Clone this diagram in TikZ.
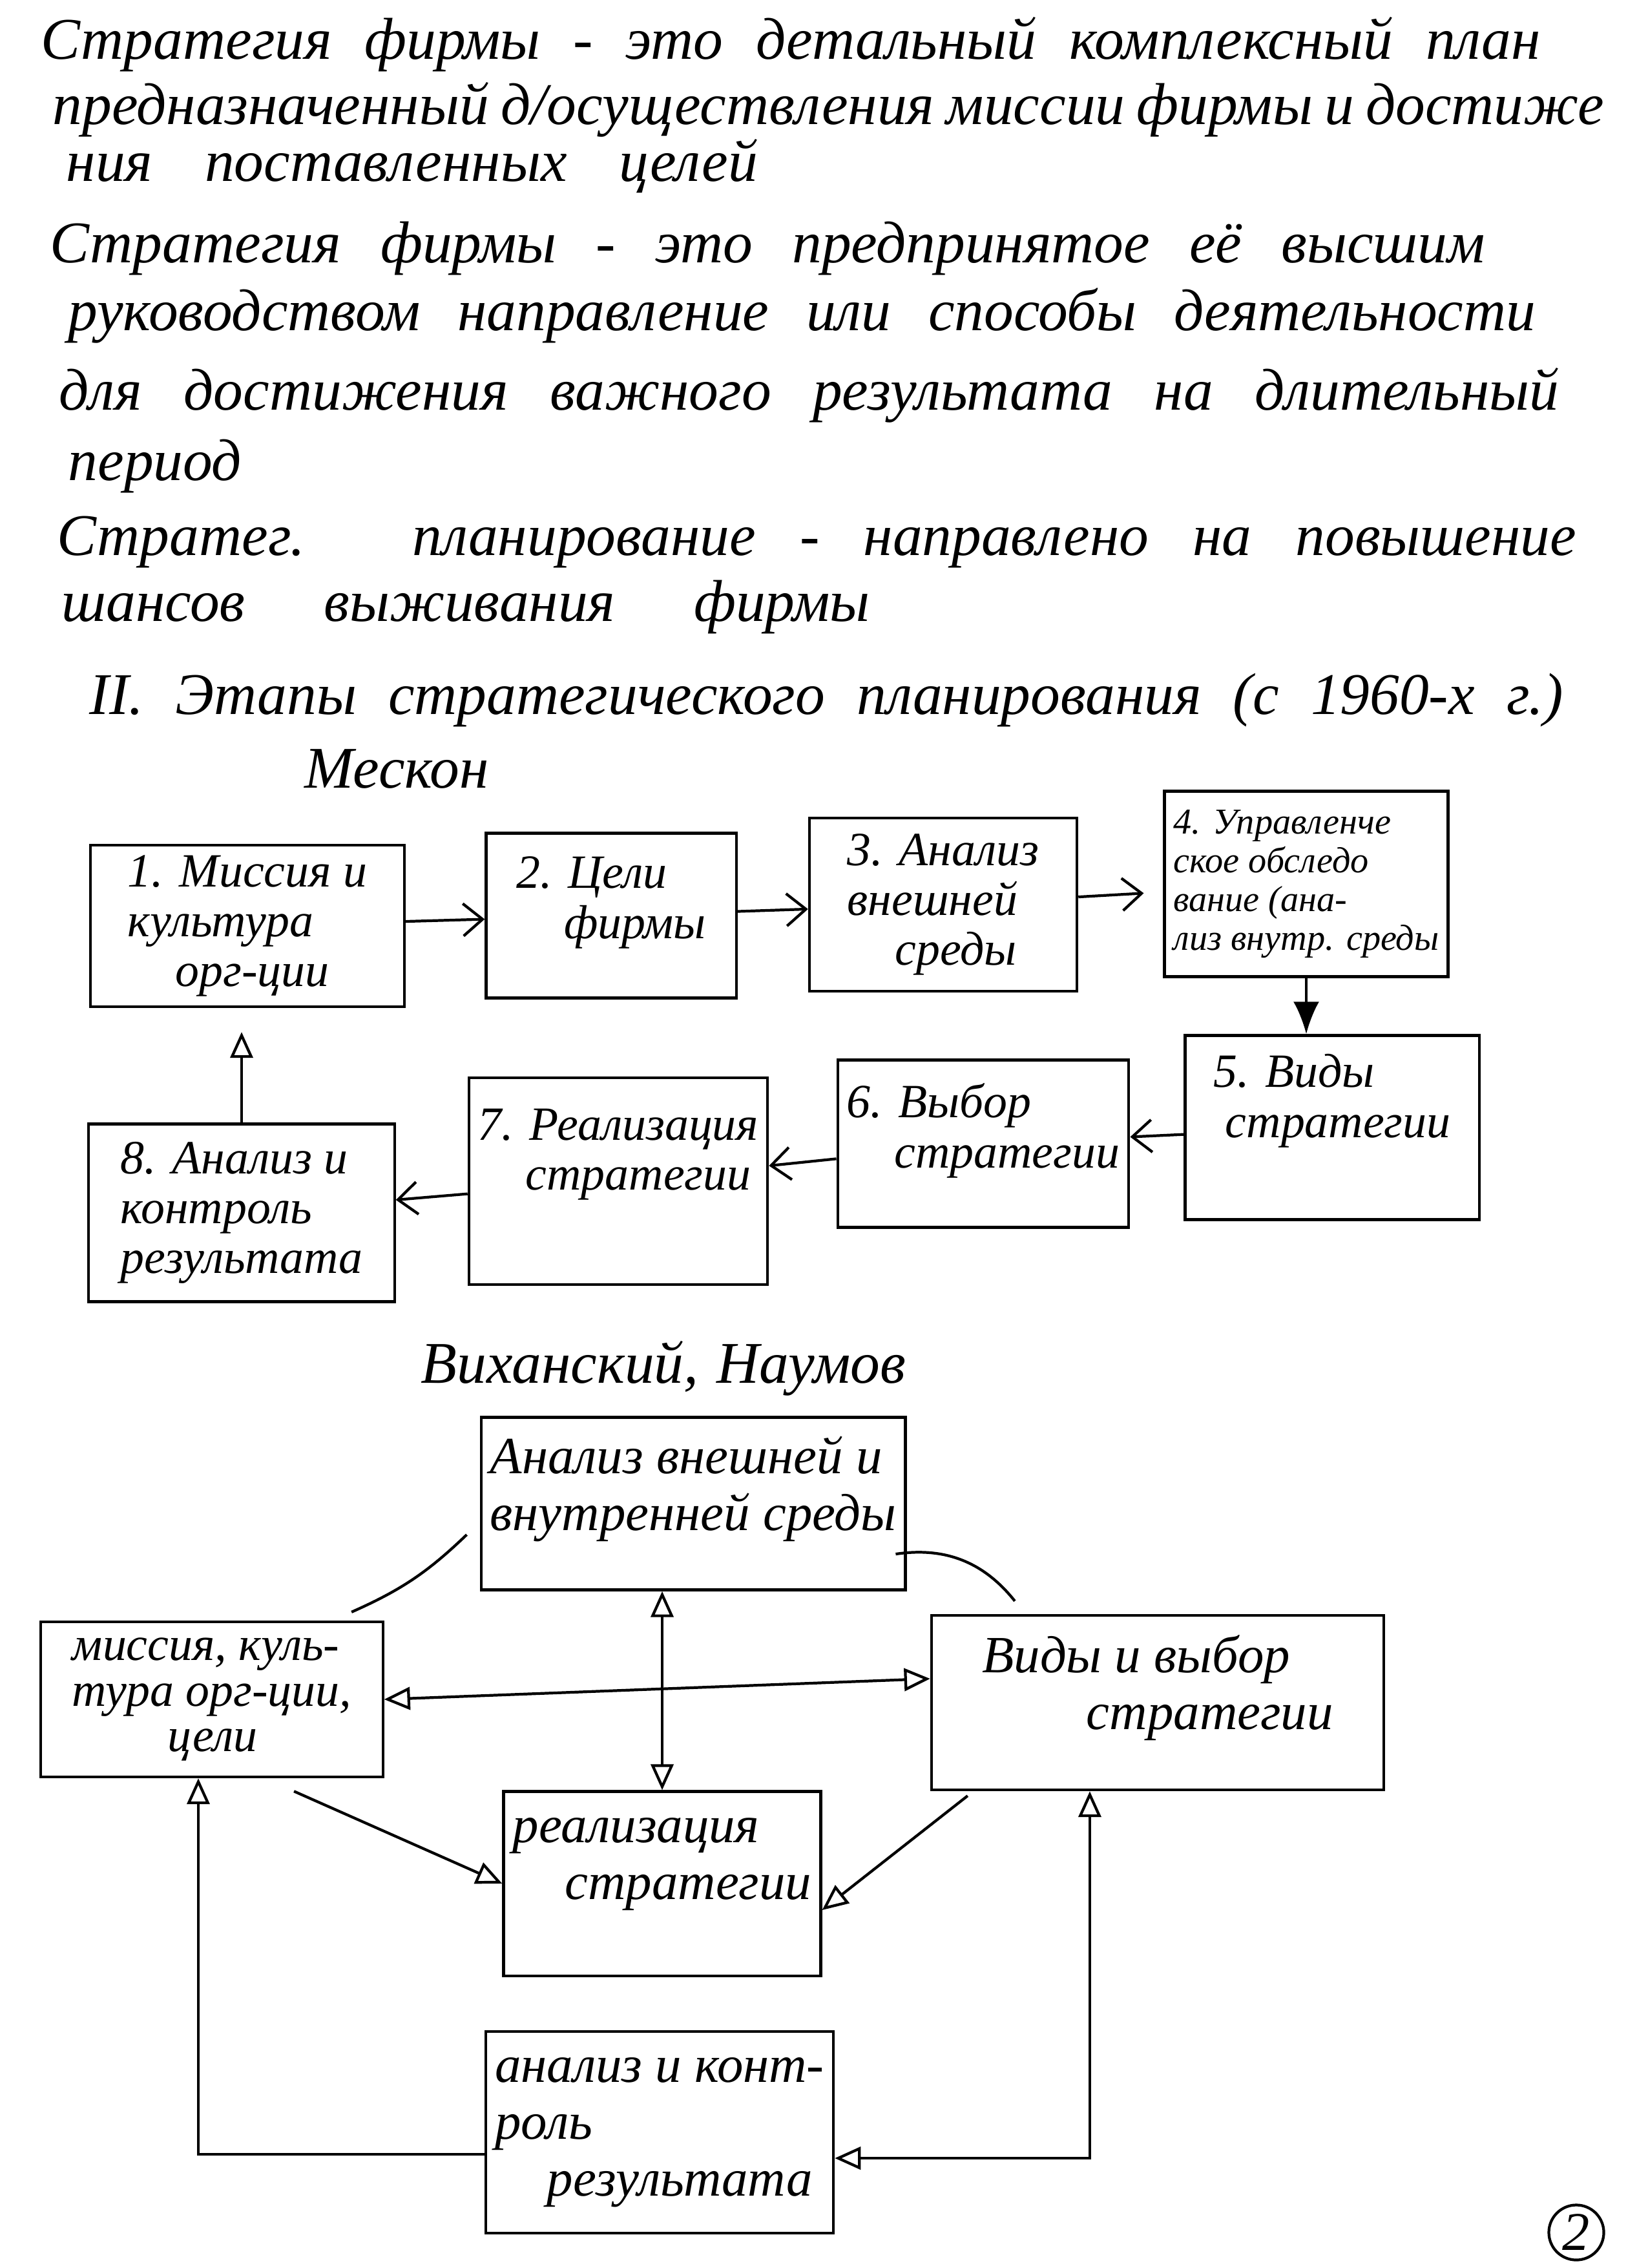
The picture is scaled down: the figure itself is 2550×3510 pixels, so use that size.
\documentclass[tikz,border=0pt]{standalone}
\usepackage{fontspec}
\setmainfont{Liberation Serif}
\usetikzlibrary{arrows.meta,calc}

% spread one handwritten line over a given width
\newcommand{\spread}[2]{\makebox[#1][s]{#2}}

\begin{document}
\begin{tikzpicture}[
    x=0.01cm, y=-0.01cm,
    txt/.style={anchor=base west, inner sep=0pt, font=\itshape\fontsize{26}{30}\selectfont},
    stage/.style={draw, line width=1.2pt, align=left, inner sep=4pt, font=\itshape\fontsize{21}{22}\selectfont},
    block/.style={draw, line width=1.2pt, align=left, inner sep=4pt, font=\itshape\fontsize{23}{25}\selectfont},
    flow/.style={draw, line width=1.2pt, -{Straight Barb[length=3mm, width=5mm]}},
    link/.style={draw, line width=1.2pt, -{Triangle[open, length=4mm, width=3.5mm]}},
    both/.style={draw, line width=1.2pt, {Triangle[open, length=4mm, width=3.5mm]}-{Triangle[open, length=4mm, width=3.5mm]}}
]
    \useasboundingbox (0,0) rectangle (2550,3510);

    % Definitions
    \node[txt] (l1) at (63,92) {\spread{23.2cm}{Стратегия фирмы - это детальный комплексный план}};
    \node[txt] (l2) at (81,193) {\spread{24.0cm}{предназначенный д/осуществления миссии фирмы и достиже}};
    \node[txt] (l3) at (102,281) {\spread{10.7cm}{ния поставленных целей}};
    \node[txt] (l4) at (77,407) {\spread{22.2cm}{Стратегия фирмы - это предпринятое её высшим}};
    \node[txt] (l5) at (105,512) {\spread{22.7cm}{руководством направление или способы деятельности}};
    \node[txt] (l6) at (91,635) {\spread{23.2cm}{для достижения важного результата на длительный}};
    \node[txt] (l7) at (105,744) {период};
    \node[txt] (l8) at (88,859) {\spread{23.5cm}{Стратег. планирование - направлено на повышение}};
    \node[txt] (l9) at (95,961) {\spread{12.5cm}{шансов выживания фирмы}};

    % Heading
    \node[txt] (head) at (138,1105) {\spread{22.8cm}{II. Этапы стратегического планирования (с 1960-х г.)}};
    \node[txt] (mescon) at (471,1219) {Мескон};

    % Mescon stages
    \node[stage, minimum width=4.85cm, minimum height=2.5cm] (m1) at (383,1433) {1. Миссия и\\культура\\\quad орг-ции};
    \node[stage, minimum width=3.87cm, minimum height=2.55cm] (m2) at (946,1417) {2. Цели\\\quad фирмы\\[-6pt]\mbox{}};
    \node[stage, minimum width=4.14cm, minimum height=2.68cm] (m3) at (1460,1400) {3. Анализ\\внешней\\\quad среды};
    \node[stage, minimum width=4.21cm, minimum height=2.87cm, font=\itshape\fontsize{16}{17}\selectfont] (m4) at (2022,1368) {4. Управленче\\ское обследо\\вание (ана-\\лиз внутр. среды};
    \node[stage, minimum width=4.55cm, minimum height=2.85cm] (m5) at (2062,1745) {5. Виды\\\ стратегии\\[6pt]\mbox{}};
    \node[stage, minimum width=4.01cm, minimum height=2.59cm] (m6) at (1522,1770) {6. Выбор\\\quad стратегии\\[-6pt]\mbox{}};
    \node[stage, minimum width=4.28cm, minimum height=3.2cm] (m7) at (957,1828) {7. Реализация\\\quad стратегии\\[6pt]\mbox{}};
    \node[stage, minimum width=4.73cm, minimum height=2.75cm] (m8) at (374,1877) {8. Анализ и\\контроль\\результата};

    \draw[flow] (m1) -- (m2);
    \draw[flow] (m2) -- (m3);
    \draw[flow, shorten >=3mm] (m3) -- (m4);
    \draw[line width=1.2pt, -{Latex[length=5mm, width=4mm]}] (m4.south) -- (m4.south |- m5.north);
    \draw[flow] (m5) -- (m6);
    \draw[flow] (m6) -- (m7);
    \draw[flow] (m7) -- (m8);
    \draw[link, shorten >=3.7mm] (m8.north) -- (m8.north |- m1.south);

    % Vikhansky, Naumov
    \node[txt] (vikh) at (651,2140) {\spread{7.5cm}{Виханский, Наумов}};

    \node[block, minimum width=6.54cm, minimum height=2.67cm] (va) at (1073,2327) {Анализ внешней и\\внутренней среды\\[-7pt]\mbox{}};
    \node[block, minimum width=5.29cm, minimum height=2.4cm, font=\itshape\fontsize{21}{20}\selectfont] (vl) at (328,2630) {миссия, куль-\\тура орг-ции,\\\qquad цели};
    \node[block, minimum width=7cm, minimum height=2.7cm] (vr) at (1792,2635) {Виды и выбор\\\qquad стратегии\\[-7pt]\mbox{}};
    \node[block, minimum width=4.66cm, minimum height=2.85cm] (vm) at (1025,2915) {реализация\\\quad стратегии\\[-3pt]\mbox{}};
    \node[block, minimum width=5.38cm, minimum height=3.12cm] (vb) at (1021,3300) {анализ и конт-\\роль\\\quad результата};

    \draw[line width=1.2pt] ([xshift=-2mm, yshift=-4.8mm]va.west) to[bend left=10] ([xshift=2.16cm, yshift=1.3mm]vl.north);
    \draw[line width=1.2pt] ([xshift=-1.7mm, yshift=-7.8mm]va.east) to[bend left=30] ([xshift=-2.21cm, yshift=2mm]vr.north);
    \draw[both] (vm.north |- va.south) -- (vm.north);
    \draw[both] (vl.east) -- ([yshift=3.7mm]vr.west);
    \draw[link] ([xshift=1.27cm, yshift=-2mm]vl.south) -- (vm.west);
    \draw[link] ([xshift=-2.94cm, yshift=-0.7mm]vr.south) -- ([yshift=-4.1mm]vm.east);
    \draw[link] ([yshift=-3.4mm]vb.west) -| ([xshift=-2.1mm]vl.south);
    \draw[both] ([xshift=-10.5mm]vr.south) |- ([yshift=-4mm]vb.east);

    % page number
    \node[draw, circle, line width=1.2pt, minimum size=0.85cm, inner sep=0pt, font=\itshape\fontsize{24}{26}\selectfont] (page) at (2440,3455) {2};
\end{tikzpicture}
\end{document}
